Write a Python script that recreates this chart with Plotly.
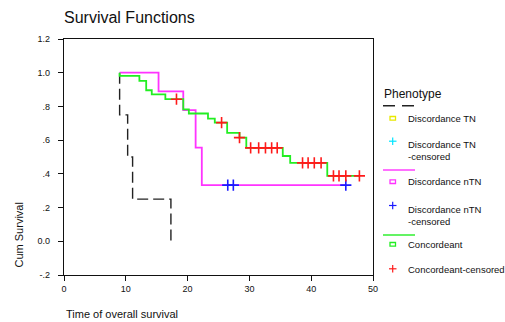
import plotly.graph_objects as go

# ---------------- data ----------------
tn_time = [9.0, 9.0, 10.3, 11.1, 17.3]
tn_surv = [1.0, 0.75, 0.50, 0.25, 0.0]

ntn_time = [9.0, 15.3, 19.3, 21.3, 22.3, 45.6]
ntn_surv = [1.0, 0.889, 0.778, 0.556, 0.333, 0.333]
ntn_cens_time = [26.5, 27.4, 45.6]
ntn_cens_surv = [0.333, 0.333, 0.333]

conc_time = [9.0, 9.0, 12.2, 13.3, 14.2, 16.4, 19.3, 20.2, 23.3, 24.4, 26.4,
             28.4, 29.5, 35.4, 36.6, 42.6, 47.8]
conc_surv = [1.0, 0.981, 0.951, 0.896, 0.872, 0.843, 0.783, 0.758, 0.728, 0.704,
             0.643, 0.615, 0.554, 0.506, 0.465, 0.388, 0.388]
conc_cens_time = [18.2, 25.5, 28.4, 30.2, 31.5, 32.6, 33.6, 34.5, 38.6, 39.5,
                  40.5, 41.6, 43.6, 44.5, 45.6, 47.8]
conc_cens_surv = [0.843, 0.704, 0.615, 0.554, 0.554, 0.554, 0.554, 0.554,
                  0.465, 0.465, 0.465, 0.465, 0.388, 0.388, 0.388, 0.388]

y_tickvals = [-0.2, 0.0, 0.2, 0.4, 0.6, 0.8, 1.0, 1.2]
y_ticktext = ["-.2", "0.0", ".2", ".4", ".6", ".8", "1.0", "1.2"]
x_tickvals = [0, 10, 20, 30, 40, 50]

legend_title = "Phenotype"
legend_labels = ["Discordance TN", "Discordance TN<br>-censored",
                 "Discordance nTN", "Discordance nTN<br>-censored",
                 "Concordeant", "Concordeant-censored"]

# ---------------- layout helpers ----------------
W, H = 505, 322
ML, MR, MT, MB = 64, 132, 39, 47
PW, PH = W - ML - MR, H - MT - MB
FONT = "Liberation Sans, Arial, sans-serif"


def px(xp):
    return (xp - ML) / PW


def py(yp):
    return (H - MB - yp) / PH


fig = go.Figure()

fig.add_trace(go.Scatter(x=tn_time, y=tn_surv, mode="lines", line_shape="hv",
                         line=dict(color="#222222", width=1.4, dash="11px,5px"),
                         showlegend=False, hoverinfo="skip"))
fig.add_trace(go.Scatter(x=ntn_time, y=ntn_surv, mode="lines", line_shape="hv",
                         line=dict(color="#ff33ff", width=1.8),
                         showlegend=False, hoverinfo="skip"))
fig.add_trace(go.Scatter(x=conc_time, y=conc_surv, mode="lines", line_shape="hv",
                         line=dict(color="#22ee22", width=1.8),
                         showlegend=False, hoverinfo="skip"))
fig.add_trace(go.Scatter(x=ntn_cens_time, y=ntn_cens_surv, mode="markers",
                         marker=dict(symbol="cross-thin", size=8,
                                     line=dict(color="#1a1aff", width=1.6)),
                         showlegend=False, hoverinfo="skip"))
fig.add_trace(go.Scatter(x=conc_cens_time, y=conc_cens_surv, mode="markers",
                         marker=dict(symbol="cross-thin", size=8,
                                     line=dict(color="#ff1a1a", width=1.6)),
                         showlegend=False, hoverinfo="skip"))

# ---------------- manual SPSS-style legend ----------------
shapes = []
annotations = []
annotations.append(dict(text=legend_title, x=px(381.5), y=py(93.5), xref="paper", yref="paper",
                        xanchor="left", yanchor="middle", showarrow=False,
                        font=dict(family=FONT, size=12, color="#111111")))

line_rows = [(105.7, "#222222", "dash"), (170.0, "#ff33ff", "solid"), (235.0, "#22ee22", "solid")]
for yy, col, dash in line_rows:
    shapes.append(dict(type="line", xref="paper", yref="paper",
                       x0=px(383), x1=px(415), y0=py(yy), y1=py(yy),
                       line=dict(color=col, width=1.4, dash="12px,7px" if dash == "dash" else "solid")))

items = [("sq", "#e8e800", 118.3, 118.3, legend_labels[0]),
         ("plus", "#00e5ff", 141.7, 150.0, legend_labels[1]),
         ("sq", "#ff33ff", 181.7, 181.7, legend_labels[2]),
         ("plus", "#1a1aff", 206.0, 215.0, legend_labels[3]),
         ("sq", "#22ee22", 244.3, 244.3, legend_labels[4]),
         ("plus", "#ff1a1a", 269.3, 269.3, legend_labels[5])]
for kind, col, ysym, ytxt, lab in items:
    if kind == "sq":
        shapes.append(dict(type="rect", xref="paper", yref="paper",
                           x0=px(390), x1=px(395.5), y0=py(ysym + 1.8), y1=py(ysym - 1.8),
                           line=dict(color=col, width=1.3), fillcolor="rgba(0,0,0,0)"))
    else:
        shapes.append(dict(type="line", xref="paper", yref="paper",
                           x0=px(389), x1=px(396.5), y0=py(ysym - 0.5), y1=py(ysym - 0.5),
                           line=dict(color=col, width=1.2)))
        shapes.append(dict(type="line", xref="paper", yref="paper",
                           x0=px(392.7), x1=px(392.7), y0=py(ysym - 4.2), y1=py(ysym + 3.2),
                           line=dict(color=col, width=1.2)))
    annotations.append(dict(text=lab, x=px(405.5), y=py(ytxt), xref="paper", yref="paper",
                            xanchor="left", yanchor="middle", align="left", showarrow=False,
                            font=dict(family=FONT, size=9.5, color="#111111")))

# axis titles
annotations.append(dict(text="Cum Survival", x=px(18.5), y=py(235), xref="paper", yref="paper",
                        xanchor="center", yanchor="middle", textangle=-90, showarrow=False,
                        font=dict(family=FONT, size=11, color="#111111")))
annotations.append(dict(text="Time of overall survival", x=px(63.5), y=py(313.5), xref="paper",
                        yref="paper", xanchor="left", yanchor="middle", showarrow=False,
                        font=dict(family=FONT, size=11, color="#111111")))

axis_common = dict(showline=True, linecolor="#111111", linewidth=1.3, mirror=True,
                   ticks="outside", ticklen=5, tickwidth=1, tickcolor="#111111",
                   showgrid=False, zeroline=False,
                   tickfont=dict(family=FONT, size=9, color="#111111"))

fig.update_layout(
    width=W, height=H,
    margin=dict(l=ML, r=MR, t=MT, b=MB, pad=0),
    paper_bgcolor="white", plot_bgcolor="white",
    showlegend=False,
    title=dict(text="Survival Functions", x=0, xref="paper", xanchor="left",
               y=1 - 17 / H, yref="container", yanchor="middle",
               font=dict(family=FONT, size=16, color="#111111")),
    xaxis=dict(range=[0, 50], tickvals=x_tickvals, **axis_common),
    yaxis=dict(range=[-0.2, 1.2], tickvals=y_tickvals, ticktext=y_ticktext,
               ticklabelstandoff=6, **axis_common),
    shapes=shapes,
    annotations=annotations,
)

fig.write_html("out.html", config={"displayModeBar": False},
               post_script="document.body.style.margin='0';document.body.style.overflow='hidden';")
